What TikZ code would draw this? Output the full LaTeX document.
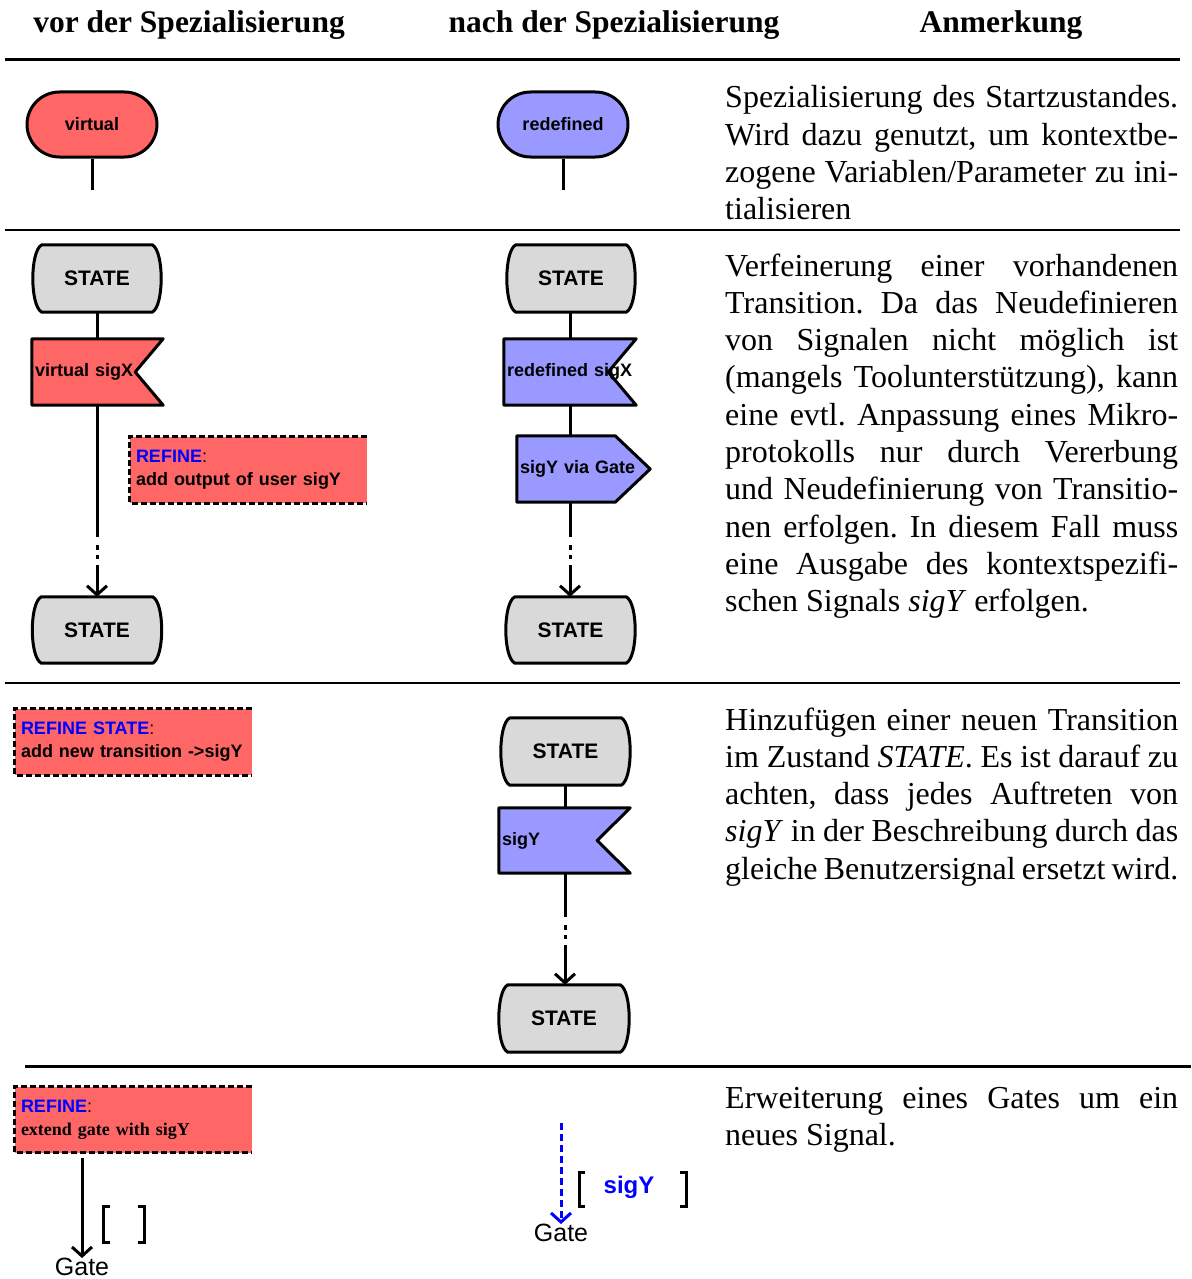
\documentclass[tikz,border=0pt]{standalone}
\usepackage{fontspec}
\setmainfont{Liberation Serif}
\setsansfont{Liberation Sans}
\usetikzlibrary{shapes.misc,arrows.meta,backgrounds,calc}

\definecolor{sdlred}{HTML}{FF6666}
\definecolor{sdlblue}{HTML}{9999FF}
\definecolor{sdlgray}{HTML}{D9D9D9}
\definecolor{refblue}{HTML}{0000FF}

\frenchspacing
% justified and last lines of the remark column
\newcommand\jl[1]{\makebox[\linewidth][s]{#1}\par}
\newcommand\lastl[1]{\makebox[\linewidth][l]{#1}\par}
\newcommand\remarkfont{\fontsize{32}{37.3}\selectfont}

% SDL state symbol with bulging sides, drawn behind node #1
\newcommand\drawstate[1]{%
  \begin{scope}[on background layer]
    \path[sdl, fill=sdlgray]
      ($(#1.north west)+(9,0)$) -- ($(#1.north east)+(-9,0)$)
      .. controls ($(#1.north east)+(3,6)$) and ($(#1.south east)+(3,-6)$) .. ($(#1.south east)+(-9,0)$)
      -- ($(#1.south west)+(9,0)$)
      .. controls ($(#1.south west)+(-3,-6)$) and ($(#1.north west)+(-3,6)$) .. cycle;
  \end{scope}}
% SDL input symbol (notch on the right), node #1, colour #2, notch depth #3
\newcommand\drawinput[3]{%
  \begin{scope}[on background layer]
    \path[sdl, fill=#2] (#1.north west) -- (#1.north east) -- ($(#1.east)+(-#3,0)$)
      -- (#1.south east) -- (#1.south west) -- cycle;
  \end{scope}}
% SDL output symbol (point on the right), node #1, colour #2, point depth #3
\newcommand\drawoutput[3]{%
  \begin{scope}[on background layer]
    \path[sdl, fill=#2] (#1.north west) -- ($(#1.north east)+(-#3,0)$) -- (#1.east)
      -- ($(#1.south east)+(-#3,0)$) -- (#1.south west) -- cycle;
  \end{scope}}
% dashed refinement note, open on the right side
\newcommand\drawnote[1]{%
  \draw[notedash] (#1.north east) -- (#1.north west) -- (#1.south west) -- (#1.south east);}

\tikzset{
  sdl/.style={draw=black, line width=3pt, line join=round},
  conn/.style={line width=3pt},
  arr/.style={conn, -{Straight Barb[length=9pt,width=20pt]}},
  dotseg/.style={conn, dash pattern=on 0pt off 8pt on 5pt off 5pt on 4pt off 6pt},
  startnode/.style={rounded rectangle, sdl, minimum width=130pt, minimum height=65pt,
    inner sep=0pt, font=\sffamily\bfseries\fontsize{18}{22}\selectfont},
  statenode/.style={minimum width=128pt, minimum height=67pt, inner sep=0pt,
    font=\sffamily\bfseries\fontsize{21}{25}\selectfont},
  signode/.style={minimum height=66pt, inner xsep=3pt, inner ysep=0pt, align=left,
    font=\sffamily\bfseries\fontsize{18}{22}\selectfont},
  notebox/.style={fill=sdlred, minimum width=237pt, minimum height=66pt, text width=225pt,
    inner xsep=6pt, inner ysep=0pt, align=left,
    font=\sffamily\bfseries\fontsize{18}{23}\selectfont},
  notedash/.style={line width=3pt, dash pattern=on 6pt off 3pt},
  head/.style={anchor=base, inner sep=0pt, font=\bfseries\fontsize{31.5}{36}\selectfont},
  remark/.style={anchor=base west, inner sep=0pt},
  gatelbl/.style={anchor=north, inner sep=0pt, font=\sffamily\fontsize{25}{30}\selectfont},
  rule/.style={line width=2.8pt},
  bracket/.style={line width=3pt, line join=miter},
}

\begin{document}
\begin{tikzpicture}[x=1pt, y=-1pt]
\useasboundingbox (0,0) rectangle (1191,1279);

% ---------- header ----------
\node[head] (h1) at (189,33) {vor der Spezialisierung};
\node[head] (h2) at (614,33) {nach der Spezialisierung};
\node[head] (h3) at (1001,33) {Anmerkung};
\draw[line width=3.8pt] (5,59.5) -- (1180,59.5);

% ---------- row 1: start state ----------
\node[startnode, fill=sdlred] (t1) at (92,124.5) {virtual};
\coordinate (t1e) at (92,190);
\draw[conn] (t1.south) -- (t1e);
\node[startnode, fill=sdlblue] (t2) at (563,124.5) {redefined};
\coordinate (t2e) at (563,190);
\draw[conn] (t2.south) -- (t2e);

\node[remark] (p1) at (725,108) {\parbox[t]{453pt}{\remarkfont
\jl{Spezialisierung des Startzustandes.}
\jl{Wird dazu genutzt, um kontextbe-}
\jl{zogene Variablen/Parameter zu ini-}
\lastl{tialisieren}}};

\draw[rule] (5,230) -- (1180,230);

% ---------- row 2: refined transition ----------
\node[statenode] (s1) at (97,278.5) {STATE};
\drawstate{s1}
\node[signode, text width=125pt] (i1) at (97.5,372) {virtual sigX};
\drawinput{i1}{sdlred}{28}
\draw[conn] (s1.south) -- (s1.south |- i1.north);
\node[notebox] (r1) at (248.5,470) {\textcolor{refblue}{REFINE}\textmd{:}\\add output of user sigY};
\drawnote{r1}
\node[statenode, minimum width=129pt, minimum height=66pt] (s2) at (97,630) {STATE};
\drawstate{s2}
\coordinate (d1a) at (97,537);
\coordinate (d1b) at (97,565);
\draw[conn] (i1.south -| d1a) -- (d1a);
\draw[dotseg] (d1a) -- (d1b);
\draw[arr] (d1b) -- (s2.north);

\node[statenode] (s3) at (571,278.5) {STATE};
\drawstate{s3}
\node[signode, text width=126pt] (i2) at (570,372) {redefined sigX};
\drawinput{i2}{sdlblue}{28}
\node[signode, minimum width=133pt, text width=127pt] (o1) at (583.5,469) {sigY via Gate};
\drawoutput{o1}{sdlblue}{35}
\node[statenode, minimum width=129pt, minimum height=66pt] (s4) at (570.5,630) {STATE};
\drawstate{s4}
\coordinate (d2a) at (570,537);
\coordinate (d2b) at (570,565);
\draw[conn] (s3.south -| d2a) -- (i2.north -| d2a);
\draw[conn] (i2.south -| d2a) -- (o1.north -| d2a);
\draw[conn] (o1.south -| d2a) -- (d2a);
\draw[dotseg] (d2a) -- (d2b);
\draw[arr] (d2b) -- (s4.north -| d2b);

\node[remark] (p2) at (725,276) {\parbox[t]{453pt}{\remarkfont
\jl{Verfeinerung einer vorhandenen}
\jl{Transition. Da das Neudefinieren}
\jl{von Signalen nicht möglich ist}
\jl{(mangels Toolunterstützung), kann}
\jl{eine evtl. Anpassung eines Mikro-}
\jl{protokolls nur durch Vererbung}
\jl{und Neudefinierung von Transitio-}
\jl{nen erfolgen. In diesem Fall muss}
\jl{eine Ausgabe des kontextspezifi-}
\lastl{schen Signals \textit{sigY} erfolgen.}}};

\draw[rule] (5,683) -- (1180,683);

% ---------- row 3: new transition ----------
\node[notebox] (r2) at (133.5,742) {\textcolor{refblue}{REFINE STATE}\textmd{:}\\add new transition ->sigY};
\drawnote{r2}
\node[statenode, minimum width=129pt] (s5) at (565.5,751.5) {STATE};
\drawstate{s5}
\node[signode, minimum height=65pt, text width=125pt] (i3) at (564.5,840.5) {sigY};
\drawinput{i3}{sdlblue}{33}
\node[statenode, minimum width=130pt] (s6) at (564,1018.5) {STATE};
\drawstate{s6}
\coordinate (d3a) at (565,917);
\coordinate (d3b) at (565,945);
\draw[conn] (s5.south -| d3a) -- (i3.north -| d3a);
\draw[conn] (i3.south -| d3a) -- (d3a);
\draw[dotseg] (d3a) -- (d3b);
\draw[arr] (d3b) -- (s6.north -| d3b);

\node[remark] (p3) at (725,730) {\parbox[t]{453pt}{\remarkfont
\jl{Hinzufügen einer neuen Transition}
\jl{im Zustand \textit{STATE}. Es ist darauf zu}
\jl{achten, dass jedes Auftreten von}
\jl{\textit{sigY} in der Beschreibung durch das}
\jl{gleiche Benutzersignal ersetzt wird.}}};

\draw[rule] (25,1066.5) -- (1191,1066.5);

% ---------- row 4: gate extension ----------
\node[notebox] (r3) at (133.5,1119.5) {\textcolor{refblue}{REFINE}\textmd{:}\\{\rmfamily extend gate with sigY}};
\drawnote{r3}
\node[gatelbl] (g1) at (82,1258) {Gate};
\coordinate (g1s) at (82,1158);
\draw[arr] (g1s) -- (g1.north);
\draw[bracket] (110,1206) -- (103.5,1206) -- (103.5,1242.5) -- (110,1242.5);
\draw[bracket] (138,1206) -- (144.5,1206) -- (144.5,1242.5) -- (138,1242.5);

\node[gatelbl] (g2) at (561,1224) {Gate};
\coordinate (g2s) at (561,1123);
\draw[arr, refblue, dash pattern=on 7pt off 4pt] (g2s) -- (g2.north);
\node[inner sep=0pt, anchor=base, text=refblue, font=\sffamily\bfseries\fontsize{24}{28}\selectfont] (sy) at (629,1193) {sigY};
\draw[bracket] (585,1172.5) -- (579,1172.5) -- (579,1206.5) -- (585,1206.5);
\draw[bracket] (680,1172.5) -- (686.5,1172.5) -- (686.5,1206.5) -- (680,1206.5);

\node[remark] (p4) at (725,1108) {\parbox[t]{453pt}{\remarkfont
\jl{Erweiterung eines Gates um ein}
\lastl{neues Signal.}}};
\end{tikzpicture}
\end{document}
